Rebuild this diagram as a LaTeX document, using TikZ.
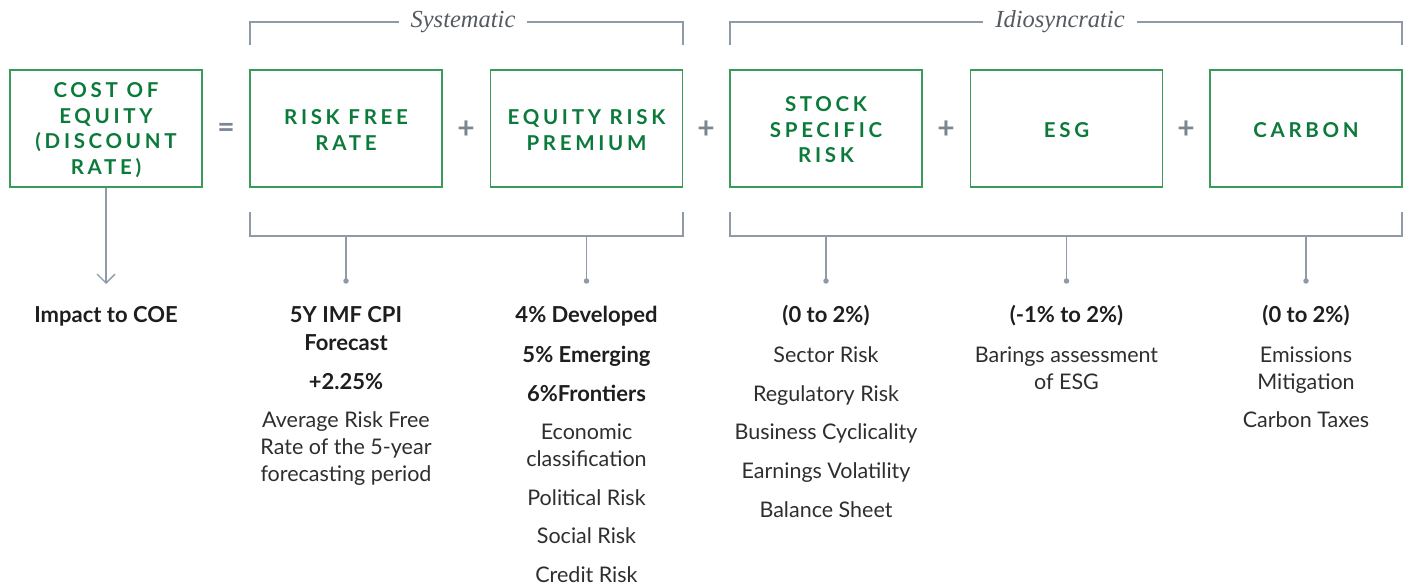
\documentclass[tikz,border=0pt]{standalone}
\usepackage{fontspec}
\setmainfont{Lato}
\newfontfamily\boxfont[LetterSpace=18]{Lato}
\newfontfamily\serifit{Liberation Serif}
\usetikzlibrary{arrows.meta}
\definecolor{boxgreen}{HTML}{3A9A5A}
\definecolor{txtgreen}{HTML}{0B7A3A}
\definecolor{linegray}{HTML}{8E9AA8}
\definecolor{opgray}{HTML}{7B8694}
\definecolor{headgray}{HTML}{555A60}
\definecolor{txtdark}{HTML}{1E1E1E}
\definecolor{txtreg}{HTML}{2E2E2E}
\tikzset{
  compbox/.style={draw=boxgreen, line width=1.4pt, minimum width=192pt, minimum height=117pt, inner sep=0pt},
  boxtext/.style={inner sep=0pt, align=center, text=txtgreen, font=\boxfont\bfseries\fontsize{20.5}{25.5}\selectfont},
  opsym/.style={text=opgray, font=\bfseries\fontsize{30}{30}\selectfont, inner sep=0pt},
  grpline/.style={draw=linegray, line width=1.3pt},
  grplabel/.style={text=headgray, font=\serifit\itshape\fontsize{24.5}{24.5}\selectfont, inner xsep=12pt, inner ysep=0pt, outer sep=0pt},
  boldln/.style={anchor=base, text=txtdark, font=\bfseries\fontsize{22}{22}\selectfont, inner sep=0pt},
  regln/.style={anchor=base, text=txtreg, font=\fontsize{21.5}{21.5}\selectfont, inner sep=0pt},
  dotmark/.style={circle, fill=linegray, minimum size=5.5pt, inner sep=0pt}
}
\begin{document}
\begin{tikzpicture}[x=1pt,y=-1pt]
\useasboundingbox (0,0) rectangle (1408,585);

% boxes
\node[compbox] (b1) at (106,128.5) {};
\node[compbox] (b2) at (346,128.5) {};
\node[compbox] (b3) at (586.5,128.5) {};
\node[compbox] (b4) at (826,128.5) {};
\node[compbox] (b5) at (1066.5,128.5) {};
\node[compbox] (b6) at (1306,128.5) {};
\node[boxtext] (l1) at ([yshift=-1.5pt]b1.center) {COST OF\\EQUITY\\(DISCOUNT\\RATE)};
\node[boxtext] (l2) at ([yshift=-1.5pt]b2.center) {RISK FREE\\RATE};
\node[boxtext] (l3) at ([yshift=-1.5pt]b3.center) {EQUITY RISK\\PREMIUM};
\node[boxtext] (l4) at ([yshift=-1.5pt]b4.center) {STOCK\\SPECIFIC\\RISK};
\node[boxtext] (l5) at ([yshift=-1.5pt]b5.center) {ESG};
\node[boxtext] (l6) at ([yshift=-1.5pt]b6.center) {CARBON};

% operators
\node[opsym] (o1) at (226,130) {=};
\node[opsym] (o2) at (466,130) {+};
\node[opsym] (o3) at (706,130) {+};
\node[opsym] (o4) at (946,130) {+};
\node[opsym] (o5) at (1186,130) {+};

% top group brackets
\node[grplabel] (sys) at (463,22) {Systematic};
\node[grplabel] (idio) at (1060,22) {Idiosyncratic};
\coordinate (s1) at (250,45);
\coordinate (s2) at (683,45);
\coordinate (i1) at (730,45);
\coordinate (i2) at (1402,45);
\draw[grpline] (s1) -- (s1 |- sys.west) -- (sys.west);
\draw[grpline] (sys.east) -- (s2 |- sys.east) -- (s2);
\draw[grpline] (i1) -- (i1 |- idio.west) -- (idio.west);
\draw[grpline] (idio.east) -- (i2 |- idio.east) -- (i2);

% bottom brackets
\coordinate (bs1) at (250,212);
\coordinate (bs2) at (683,212);
\coordinate (bi1) at (730,212);
\coordinate (bi2) at (1402,212);
\draw[grpline] (bs1) -- (250,236) -- (683,236) -- (bs2);
\draw[grpline] (bi1) -- (730,236) -- (1402,236) -- (bi2);

% stems with dots
\node[dotmark] (d2) at (346,281) {};
\node[dotmark] (d3) at (586.5,281) {};
\node[dotmark] (d4) at (826,281) {};
\node[dotmark] (d5) at (1066.5,281) {};
\node[dotmark] (d6) at (1306,281) {};
\draw[grpline] (346,236) -- (d2.center);
\draw[grpline] (586.5,236) -- (d3.center);
\draw[grpline] (826,236) -- (d4.center);
\draw[grpline] (1066.5,236) -- (d5.center);
\draw[grpline] (1306,236) -- (d6.center);

% arrow from COE
\coordinate (a1) at (106,284);
\draw[grpline, -{Straight Barb[length=9pt,width=18pt,line width=1.3pt]}] (b1.south) -- (a1);

% column 1
\node[boldln] (t1a) at (106,323) {Impact to COE};

% column 2
\node[boldln] (t2a) at (346,323) {5Y IMF CPI};
\node[boldln] (t2b) at (346,350) {Forecast};
\node[boldln] (t2c) at (346,389) {+2.25\%};
\node[regln] (t2d) at (346,427) {Average Risk Free};
\node[regln] (t2e) at (346,454) {Rate of the 5-year};
\node[regln] (t2f) at (346,481) {forecasting period};

% column 3
\node[boldln] (t3a) at (586.5,323) {4\% Developed};
\node[boldln] (t3b) at (586.5,362) {5\% Emerging};
\node[boldln] (t3c) at (586.5,401) {6\%Frontiers};
\node[regln] (t3d) at (586.5,439) {Economic};
\node[regln] (t3e) at (586.5,466) {classification};
\node[regln] (t3f) at (586.5,505) {Political Risk};
\node[regln] (t3g) at (586.5,543) {Social Risk};
\node[regln] (t3h) at (586.5,582) {Credit Risk};

% column 4
\node[boldln] (t4a) at (826,323) {(0 to 2\%)};
\node[regln] (t4b) at (826,362) {Sector Risk};
\node[regln] (t4c) at (826,401) {Regulatory Risk};
\node[regln] (t4d) at (826,439) {Business Cyclicality};
\node[regln] (t4e) at (826,478) {Earnings Volatility};
\node[regln] (t4f) at (826,517) {Balance Sheet};

% column 5
\node[boldln] (t5a) at (1066.5,323) {(-1\% to 2\%)};
\node[regln] (t5b) at (1066.5,362) {Barings assessment};
\node[regln] (t5c) at (1066.5,389) {of ESG};

% column 6
\node[boldln] (t6a) at (1306,323) {(0 to 2\%)};
\node[regln] (t6b) at (1306,362) {Emissions};
\node[regln] (t6c) at (1306,389) {Mitigation};
\node[regln] (t6d) at (1306,427) {Carbon Taxes};
\end{tikzpicture}
\end{document}
